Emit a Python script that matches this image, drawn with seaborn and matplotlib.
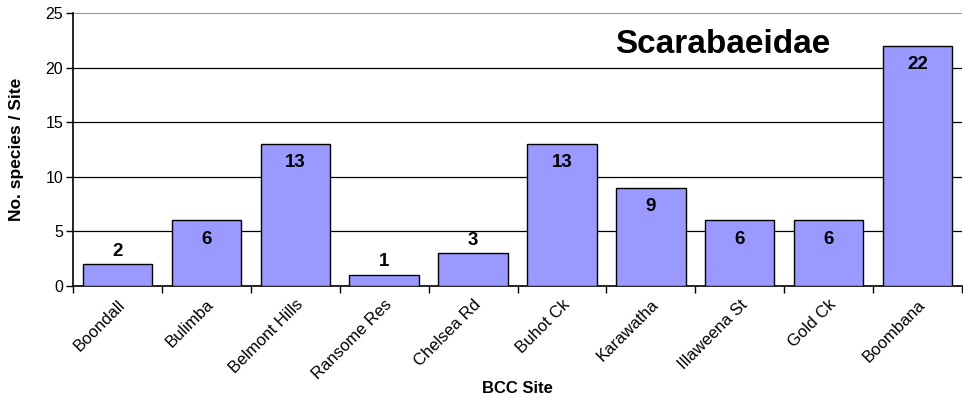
import matplotlib
matplotlib.use("Agg")
import matplotlib.pyplot as plt
import seaborn as sns
import pandas as pd

# Data
sites = ["Boondall", "Bulimba", "Belmont Hills", "Ransome Res", "Chelsea Rd",
         "Buhot Ck", "Karawatha", "Illaweena St", "Gold Ck", "Boombana"]
species = [2, 6, 13, 1, 3, 13, 9, 6, 6, 22]
y_ticks = [0, 5, 10, 15, 20, 25]

df = pd.DataFrame({"site": sites, "species": species})

sns.set_style("white")
plt.rcParams["font.family"] = ["Liberation Sans", "DejaVu Sans"]
plt.rcParams["text.color"] = "black"
plt.rcParams["axes.labelcolor"] = "black"
plt.rcParams["xtick.color"] = "black"
plt.rcParams["ytick.color"] = "black"

fig = plt.figure(figsize=(9.63, 4.0), dpi=100)
ax = fig.add_axes([0.0758, 0.285, 0.9232, 0.6825])

sns.barplot(data=df, x="site", y="species", color="#9999FF", saturation=1,
            edgecolor="black", linewidth=1.0, width=0.78, ax=ax, zorder=3)

ax.set_ylim(0, 25)
ax.set_xlim(-0.5, len(sites) - 0.5)
ax.set_yticks(y_ticks)
ax.set_yticklabels([str(t) for t in y_ticks], fontsize=11.5)
for t in y_ticks[1:-1]:
    ax.axhline(t, color="black", linewidth=0.9, zorder=1)
ax.axhline(25, color="#808080", linewidth=1.2, zorder=1)

# category boundary ticks on x
ax.set_xticks([i - 0.5 for i in range(len(sites) + 1)], minor=False)
ax.set_xticklabels([])
ax.set_xticks(range(len(sites)), minor=True)
ax.set_xticklabels(sites, minor=True, rotation=45, ha="right",
                   rotation_mode="anchor", fontsize=12)
ax.tick_params(axis="x", which="minor", length=0, pad=8)
ax.tick_params(axis="x", which="major", length=5, width=1,
               direction="out", bottom=True)
ax.tick_params(axis="y", length=5, width=1, direction="out",
               left=True, pad=2)

for side in ["top", "right"]:
    ax.spines[side].set_visible(False)
for side in ["left", "bottom"]:
    ax.spines[side].set_color("black")
    ax.spines[side].set_linewidth(1.2)

# value labels
for i, v in enumerate(species):
    if v >= 5:
        ax.text(i, v - 1.7, str(v), ha="center", va="center",
                fontsize=13.5, fontweight="bold", zorder=4)
    else:
        ax.text(i, v + 1.2, str(v), ha="center", va="center",
                fontsize=13.5, fontweight="bold", zorder=4)

ax.text(0.731, 0.883, "Scarabaeidae", transform=ax.transAxes, ha="center",
        va="center", fontsize=24, fontweight="bold")

ax.set_xlabel("BCC Site", fontsize=12, fontweight="bold")
ax.set_ylabel("No. species / Site", fontsize=12.5, fontweight="bold")
ax.xaxis.set_label_coords(0.5, -0.374)
ax.xaxis.label.set_va("center")
ax.yaxis.set_label_coords(-0.063, 0.5)
ax.yaxis.label.set_va("center")

fig.savefig("out.png", dpi=100)
